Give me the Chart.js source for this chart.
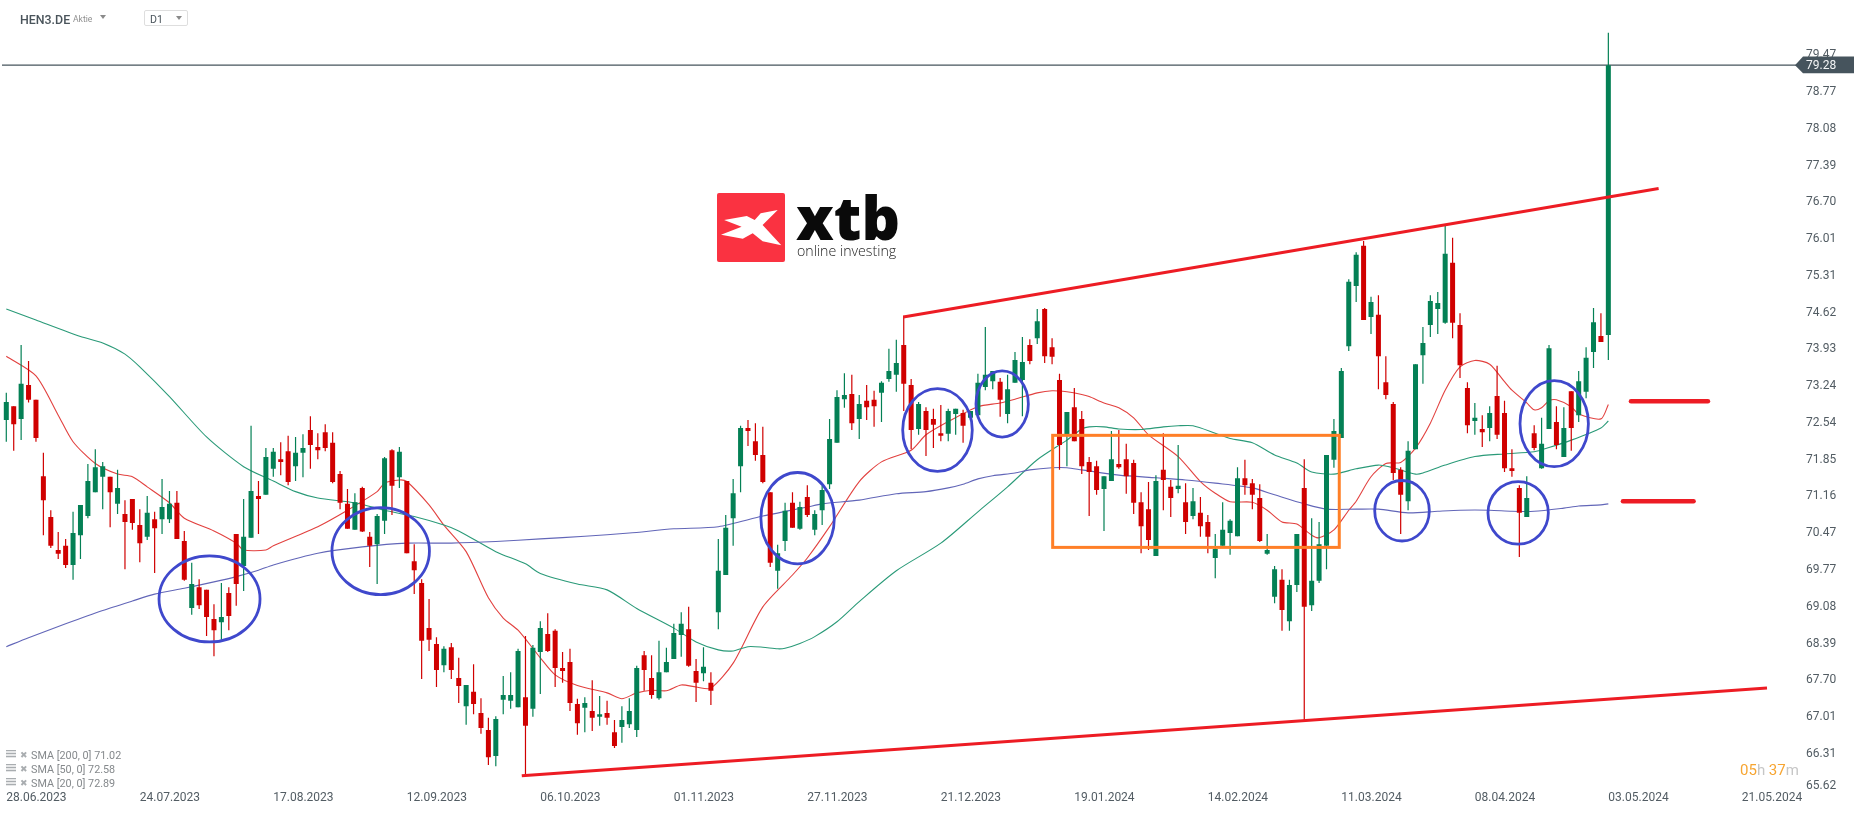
<!DOCTYPE html>
<html>
<head>
<meta charset="utf-8">
<title>HEN3.DE D1</title>
<script src="https://cdn.jsdelivr.net/npm/chart.js@4/dist/chart.umd.js"></script>
<style>
  html, body { margin: 0; padding: 0; background: #fff; overflow: hidden; font-family: Roboto, sans-serif; }
  #wrap { position: relative; width: 1866px; height: 815px; }
  #wrap > div, #wrap > svg { position: absolute; white-space: nowrap; }
  .tri { width: 0; height: 0; border-left: 3.6px solid transparent; border-right: 3.6px solid transparent; border-top: 4.6px solid #8a8a8a; }
  .sma { left: 31px; font-size: 10.8px; line-height: 12px; color: #85898c; }
  .ico { left: 6px; width: 10px; height: 8px; background: repeating-linear-gradient(#a9adb0 0 1.5px, #e6e7e8 1.5px 3px); }
  .del { left: 20px; font-size: 9px; line-height: 10px; color: #a9adb0; }
</style>
</head>
<body>
<div id="wrap">
  <canvas id="chart" width="1866" height="815"></canvas>

  <div style="left:20px;top:12px;font-size:12.4px;font-weight:500;line-height:15px;color:#4a545b">HEN3.DE</div>
  <div style="left:73px;top:14px;font-size:8.6px;line-height:11px;color:#8f8f8f">Aktie</div>
  <div class="tri" style="left:100px;top:15px"></div>
  <div style="left:144px;top:10px;width:42px;height:14px;border:1px solid #dedede;border-radius:2px"></div>
  <div style="left:150px;top:13px;font-size:10.6px;line-height:13px;color:#4a545b">D1</div>
  <div class="tri" style="left:176px;top:16px"></div>

  <div style="left:717px;top:193px;width:68px;height:69px;background:#fa3241;border-radius:2px"></div>
  <svg style="left:717px;top:193px" width="68" height="69">
    <polygon fill="#fff" points="7.1,27 29.8,23 37.7,27 43.7,20.3 60.7,17 45.6,32 64.3,52.3 45.6,48.3 35.7,40.3 25.8,45.7 4,41.7 24.6,33.7"/>
  </svg>
  <div style="left:796px;top:178px;font-family:'Open Sans';font-weight:800;font-size:60px;line-height:78px;color:#0a0a0a">xtb</div>
  <div style="left:797px;top:242px;font-family:'Open Sans';font-weight:300;font-size:14.2px;line-height:18px;color:#222">online investing</div>

  <div class="ico" style="top:750px"></div><div class="del" style="top:750px">✖</div>
  <div class="sma" style="top:750px">SMA [200, 0] 71.02</div>
  <div class="ico" style="top:764px"></div><div class="del" style="top:764px">✖</div>
  <div class="sma" style="top:764px">SMA [50, 0] 72.58</div>
  <div class="ico" style="top:778px"></div><div class="del" style="top:778px">✖</div>
  <div class="sma" style="top:778px">SMA [20, 0] 72.89</div>

  <div style="left:1740px;top:761px;font-size:15px;line-height:18px;color:#f7a531">05<span style="color:#c6c6c6">h</span> 37<span style="color:#c6c6c6">m</span></div>
</div>

<script>
// one entry per trading day
const openVals = [
  72.60,72.86,72.62,73.26,72.98,71.54,70.77,70.15,70.23,69.87,
  70.43,70.79,71.24,71.53,71.53,71.02,70.83,71.11,70.62,70.40,
  70.73,70.73,70.73,71.04,70.32,69.06,69.45,69.40,68.85,68.79,
  69.34,70.45,69.85,70.38,71.17,71.19,71.68,71.86,72.01,71.73,
  71.98,72.41,72.09,72.37,72.17,71.58,71.02,70.53,71.32,70.40,
  70.26,70.70,72.03,71.52,71.45,69.94,69.53,68.68,68.38,67.98,
  68.32,67.74,67.21,67.48,67.08,66.76,66.27,67.33,67.31,67.19,
  67.38,67.16,68.23,68.57,68.63,67.93,68.04,67.25,67.18,67.12,
  67.01,67.08,66.72,66.82,66.87,66.76,68.17,67.74,67.36,67.85,
  68.10,68.55,68.66,67.87,67.83,67.65,68.98,69.68,70.75,71.73,
  72.45,72.20,71.94,71.24,69.76,70.32,71.04,70.55,71.15,70.53,
  70.90,71.39,72.17,72.99,73.09,72.62,72.96,72.98,73.11,73.37,
  73.45,74.01,73.26,72.43,72.77,72.62,72.35,72.34,72.71,72.73,
  72.64,72.69,73.22,73.33,73.32,72.71,73.30,73.35,74.01,74.14,
  74.69,73.97,73.35,72.32,72.84,72.62,71.81,71.73,71.30,71.45,
  71.77,71.86,71.79,71.05,70.92,70.04,71.66,71.34,71.30,71.05,
  70.79,70.85,70.68,70.00,70.23,70.47,70.41,71.50,71.41,71.13,
  70.08,69.27,69.59,68.81,69.49,71.32,69.11,69.57,70.23,71.85,
  72.26,73.99,75.12,75.88,74.54,74.58,73.31,72.90,71.66,71.07,
  72.05,73.82,74.39,74.69,74.43,75.56,74.39,73.20,72.58,72.43,
  72.45,73.05,72.73,71.69,71.32,70.77,72.35,71.69,72.43,72.56,
  71.90,73.14,72.69,73.13,73.88,74.18,74.20
];
const closeVals = [
  72.94,72.52,73.28,72.98,72.26,71.09,70.23,70.08,69.87,70.47,
  71.00,71.45,71.71,71.73,71.24,71.32,70.68,70.66,70.28,70.85,
  70.56,70.96,71.02,70.36,69.59,69.51,69.11,68.89,68.64,68.89,
  68.91,69.51,70.40,71.26,71.11,71.90,72.00,71.81,71.43,71.98,
  72.07,72.13,72.03,72.07,71.43,71.04,70.55,71.05,70.50,70.23,
  70.79,71.88,71.36,72.00,70.09,69.77,68.44,68.46,67.89,68.29,
  67.89,67.59,67.61,67.25,66.80,66.25,66.97,67.42,67.42,68.25,
  66.84,68.31,68.68,68.25,67.93,67.87,67.27,66.89,67.27,66.99,
  67.06,66.99,66.46,66.95,67.12,67.93,67.89,67.42,67.85,68.04,
  68.59,68.76,67.97,67.65,67.95,67.50,69.76,70.57,71.22,72.45,
  72.39,71.94,71.43,69.91,70.09,70.89,70.57,70.96,70.81,70.83,
  71.28,72.24,73.03,73.07,72.54,72.90,72.84,72.86,73.30,73.52,
  73.67,73.28,72.41,72.90,72.41,72.51,72.30,72.77,72.81,72.49,
  72.77,73.30,73.45,73.52,72.98,73.18,73.73,73.69,73.71,74.46,
  73.80,73.79,72.13,72.75,72.20,71.73,71.62,71.28,71.54,71.86,
  71.71,71.54,71.04,70.60,70.34,71.45,71.47,71.13,71.36,70.68,
  71.07,70.60,70.40,70.17,70.53,70.70,71.50,71.37,71.19,70.32,
  70.15,69.79,69.02,69.49,70.45,69.08,69.57,70.26,71.94,72.39,
  73.52,75.20,75.71,74.48,74.82,73.80,73.07,71.60,71.19,72.02,
  73.65,74.05,74.84,74.80,75.73,74.43,73.63,72.50,72.64,72.37,
  72.73,72.32,71.69,71.64,70.85,71.13,72.07,72.15,73.95,72.13,
  72.45,72.45,73.33,73.77,74.44,74.07,79.28
];
const highVals = [
  73.11,72.86,74.01,73.71,72.98,71.98,70.90,70.49,70.36,70.87,
  71.00,71.77,72.05,71.81,71.53,71.66,71.09,71.11,70.92,71.17,
  70.87,71.49,71.26,71.26,70.51,69.91,69.60,69.40,69.13,69.53,
  69.45,70.45,71.11,72.49,71.45,72.07,72.07,72.18,72.30,72.28,
  72.33,72.67,72.35,72.52,72.37,71.64,71.30,71.22,71.34,70.49,
  70.83,71.90,72.05,72.09,71.45,70.26,69.60,69.23,68.51,68.34,
  68.40,68.12,67.61,68.00,67.36,66.99,67.02,67.78,67.85,68.29,
  68.53,68.36,68.81,68.96,68.66,68.23,68.29,67.35,67.38,67.70,
  67.40,67.31,66.95,67.21,67.36,67.97,68.25,68.17,68.44,68.31,
  68.76,68.98,69.08,68.10,68.32,67.85,70.36,70.81,71.49,72.49,
  72.60,72.54,72.47,71.24,70.25,71.04,71.24,71.06,71.37,70.90,
  71.36,72.62,73.16,73.48,73.45,73.07,73.26,73.15,73.33,73.94,
  74.11,74.56,73.37,72.94,72.84,72.81,72.88,72.81,72.81,72.79,
  72.77,73.47,74.35,73.52,73.39,73.45,73.88,74.16,74.12,74.69,
  74.71,74.14,73.47,72.75,73.20,72.77,71.90,71.83,71.54,72.39,
  72.41,72.15,71.85,71.24,71.43,71.56,72.35,71.47,72.13,71.41,
  71.32,71.15,70.81,70.45,71.05,70.73,71.71,71.85,71.49,71.39,
  70.45,69.85,69.79,69.59,70.45,71.86,70.75,70.68,71.94,72.62,
  73.58,75.25,75.76,75.97,74.92,74.95,73.80,72.94,71.71,72.20,
  73.65,74.35,74.95,75.01,76.27,76.03,74.61,73.31,72.92,72.69,
  72.86,73.62,72.96,72.05,71.37,71.54,72.50,72.64,74.01,72.86,
  72.84,73.14,73.52,73.97,74.71,74.61,79.89
];
const lowVals = [
  72.19,72.02,72.22,72.93,72.19,70.43,70.19,69.98,69.81,69.59,
  69.98,70.75,71.24,70.92,70.58,70.83,69.79,70.53,69.92,70.34,
  69.72,70.45,70.66,70.36,69.57,68.93,69.04,68.53,68.15,68.46,
  68.64,69.10,69.38,70.38,70.45,71.19,71.53,71.56,71.37,71.45,
  71.52,71.68,71.86,72.01,71.41,70.92,70.55,70.53,70.49,69.83,
  69.51,70.45,70.81,71.32,70.09,69.32,67.72,68.25,67.57,67.85,
  67.72,67.27,66.86,67.06,66.69,66.10,66.08,67.06,67.16,67.19,
  65.89,67.01,67.44,68.23,67.57,67.65,67.12,66.67,66.72,66.74,
  66.84,66.86,66.42,66.52,66.80,66.63,67.50,67.35,67.33,67.85,
  68.10,68.14,67.95,67.29,67.68,67.23,68.66,69.68,70.23,71.24,
  72.11,71.83,71.41,69.83,69.42,70.13,70.57,70.53,70.77,70.43,
  70.62,71.30,72.17,72.83,72.41,72.24,72.60,72.47,72.56,73.32,
  73.13,72.77,72.05,72.32,71.92,72.07,72.20,72.20,72.32,72.17,
  72.60,72.69,73.16,73.18,72.66,72.54,73.30,72.67,73.65,74.03,
  73.67,73.65,71.66,71.73,72.20,71.58,70.79,71.19,70.51,71.45,
  71.68,71.21,70.83,70.09,70.15,70.04,70.90,70.77,71.22,70.45,
  70.73,70.40,70.09,69.62,70.23,70.06,70.41,71.19,70.92,70.30,
  70.06,69.15,68.63,68.63,69.36,66.95,69.00,69.53,69.79,71.70,
  72.26,73.90,74.82,74.48,74.22,73.18,72.99,71.47,70.45,70.90,
  72.05,73.28,74.16,74.22,74.41,74.14,73.39,72.35,72.32,72.09,
  72.20,72.24,71.62,71.53,70.02,70.77,72.03,71.68,72.43,72.05,
  71.90,72.02,72.56,73.01,73.58,74.07,73.73
];

// moving averages, read at the days where the curve bends
const sma200Days = [0,3,8,13,17,20,24,28,31,34,36,42,48,54,60,66,72,78,84,90,96,102,108,110,115,120,124,127,129,131,133,136,138,141,143,145,150,155,159,163,168,171,175,178,182,185,189,193,196,200,203,206,210,212,215,216];
const sma200Vals = [68.33,68.50,68.76,69.01,69.19,69.32,69.43,69.55,69.65,69.77,69.87,70.09,70.21,70.28,70.28,70.31,70.36,70.41,70.47,70.55,70.59,70.79,70.96,71.02,71.09,71.21,71.25,71.32,71.39,71.49,71.55,71.60,71.66,71.70,71.70,71.66,71.56,71.51,71.47,71.41,71.32,71.19,71.02,70.92,70.92,70.92,70.85,70.88,70.90,70.90,70.88,70.88,70.94,70.98,71.00,71.02];
const sma50Days = [0,4,10,13,16,18,22,27,32,36,39,42,47,51,55,59,61,66,70,72,77,81,85,90,93,96,98,100,102,104,105,107,109,112,115,120,126,131,135,139,143,145,146,148,150,153,156,158,160,163,165,168,171,174,176,179,182,185,187,190,191,194,198,202,206,208,211,215,216];
const sma50Vals = [74.69,74.48,74.17,74.05,73.84,73.60,73.04,72.28,71.72,71.45,71.25,71.13,71.04,70.90,70.78,70.62,70.51,70.12,69.89,69.71,69.51,69.40,69.05,68.68,68.42,68.27,68.25,68.33,68.32,68.29,68.30,68.39,68.52,68.80,69.18,69.76,70.28,70.87,71.34,71.85,72.22,72.43,72.47,72.47,72.43,72.42,72.47,72.49,72.49,72.35,72.25,72.17,71.94,71.79,71.62,71.58,71.68,71.75,71.70,71.58,71.60,71.75,71.91,71.96,72.00,72.08,72.22,72.45,72.58];
const sma20Days = [0,4,7,9,12,15,17,19,22,24,28,31,32,35,36,42,46,50,51,53,54,57,59,62,65,67,69,72,74,77,81,83,85,87,89,91,93,95,98,102,106,108,111,115,118,122,124,127,131,134,136,139,141,143,145,146,148,150,152,154,158,161,163,165,168,170,172,174,176,177,179,181,182,184,186,188,190,192,194,196,198,200,202,203,205,206,207,208,209,211,212,215,216];
const sma20Vals = [73.80,73.43,72.69,72.19,71.78,71.58,71.53,71.34,71.04,70.75,70.51,70.28,70.15,70.15,70.23,70.59,70.90,71.25,71.41,71.47,71.44,71.00,70.62,70.12,69.25,68.87,68.64,68.12,67.80,67.60,67.46,67.35,67.46,67.51,67.50,67.61,67.57,67.55,68.02,69.08,69.68,70.00,70.59,71.44,71.81,72.03,72.32,72.57,72.85,72.92,72.99,73.11,73.15,73.13,73.08,73.04,72.92,72.83,72.64,72.32,71.91,71.44,71.22,71.06,71.05,70.90,70.68,70.64,70.43,70.38,70.53,70.90,71.07,71.53,71.78,71.80,72.07,72.54,73.16,73.60,73.72,73.65,73.32,73.16,72.92,72.79,72.83,72.96,72.98,72.85,72.71,72.62,72.89];

// axis labels: one date every 18 trading days
const dateTickDays = [0,18,36,54,72,90,108,126,144,162,180,198,216,234];
const dateTickLabels = ['28.06.2023','24.07.2023','17.08.2023','12.09.2023','06.10.2023','01.11.2023','27.11.2023','21.12.2023','19.01.2024','14.02.2024','11.03.2024','08.04.2024','03.05.2024','21.05.2024'];
const priceTicks = [79.47,78.77,78.08,77.39,76.70,76.01,75.31,74.62,73.93,73.24,72.54,71.85,71.16,70.47,69.77,69.08,68.39,67.70,67.01,66.31,65.62];
const lastPrice = 79.28;

// hand drawn markup, in day / price units
const upperTrend = [[120.94,74.54],[222.78,76.96]];
const lowerTrend = [[69.50,65.90],[237.39,67.55]];
const shortLineA = [[219.05,72.95],[229.43,72.95]];
const shortLineB = [[217.97,71.07],[227.49,71.07]];
const boxDays = [141.08,179.72];
const boxPrices = [72.31,70.20];
const circleDays = [27.40,50.48,106.69,125.55,134.27,188.18,203.84,208.70];
const circlePrices = [69.23,70.13,70.75,72.41,72.90,70.89,70.85,72.53];
const circleDayRadii = [6.81,6.57,4.95,4.69,3.53,3.68,4.07,4.61];
const circlePriceRadii = [0.81,0.82,0.86,0.78,0.625,0.57,0.59,0.81];

const GREEN = '#048055';
const RED = '#d00000';
const AXIS_FONT = { family: 'Roboto', size: 12 };
const AXIS_COLOR = '#525c63';

const candleColors = openVals.map((o, i) => closeVals[i] >= o ? GREEN : RED);

function seriesPoints(days, vals) {
  return days.map((d, i) => ({ x: d, y: vals[i] }));
}

function smaDataset(days, vals, color) {
  return { type: 'line', data: seriesPoints(days, vals), borderColor: color, borderWidth: 1.1, pointRadius: 0, tension: 0.25, order: 4 };
}

function drawnLine(pts, color, width, cap) {
  return {
    type: 'line',
    data: pts.map(p => ({ x: p[0], y: p[1] })),
    borderColor: color,
    borderWidth: width,
    borderCapStyle: cap || 'butt',
    pointRadius: 0,
    order: 0
  };
}

// labels must not add padding around the plot, the axes are placed by hand
function noPadding(axis) {
  axis.paddingTop = 0;
  axis.paddingBottom = 0;
  axis.paddingLeft = 0;
  axis.paddingRight = 0;
}

const markupPlugin = {
  id: 'markup',
  afterDatasetsDraw(chart) {
    const c = chart.ctx;
    const xs = chart.scales.x;
    const ys = chart.scales.y;
    c.save();
    c.strokeStyle = '#ff7f27';
    c.lineWidth = 3;
    const bx = xs.getPixelForValue(boxDays[0]);
    const by = ys.getPixelForValue(boxPrices[0]);
    c.strokeRect(bx, by, xs.getPixelForValue(boxDays[1]) - bx, ys.getPixelForValue(boxPrices[1]) - by);
    c.strokeStyle = '#3f48cc';
    c.lineWidth = 2.8;
    circleDays.forEach((d, i) => {
      const cx = xs.getPixelForValue(d);
      const cy = ys.getPixelForValue(circlePrices[i]);
      const rx = xs.getPixelForValue(d + circleDayRadii[i]) - cx;
      const ry = cy - ys.getPixelForValue(circlePrices[i] + circlePriceRadii[i]);
      c.beginPath();
      c.ellipse(cx, cy, rx, ry, 0, 0, Math.PI * 2);
      c.stroke();
    });
    c.restore();
  },
  afterDraw(chart) {
    const c = chart.ctx;
    const y = chart.scales.y.getPixelForValue(lastPrice);
    c.save();
    // price tag sits on top of the 79.47 tick
    c.fillStyle = '#46545d';
    c.beginPath();
    c.moveTo(1795, y);
    c.lineTo(1803, y - 8.7);
    c.lineTo(1854, y - 8.7);
    c.lineTo(1854, y + 8);
    c.lineTo(1803, y + 8);
    c.closePath();
    c.fill();
    c.font = '12px Roboto';
    c.textBaseline = 'middle';
    c.fillStyle = '#f2f4f5';
    c.fillText(String(lastPrice), 1806, y + 1);
    // lowest tick label is pushed up to stay inside the axis
    c.fillStyle = AXIS_COLOR;
    c.fillText(priceTicks[priceTicks.length - 1].toFixed(2), 1806, 786);
    c.restore();
  }
};

new Chart(document.getElementById('chart'), {
  type: 'bar',
  data: {
    datasets: [
      {
        data: openVals.map((o, i) => ({ x: i, y: [o, closeVals[i]] })),
        backgroundColor: candleColors,
        barThickness: 5,
        grouped: false,
        inflateAmount: 0,
        order: 1
      },
      {
        data: highVals.map((h, i) => ({ x: i, y: [lowVals[i], h] })),
        backgroundColor: candleColors,
        barThickness: 1.2,
        grouped: false,
        inflateAmount: 0,
        order: 2
      },
      smaDataset(sma200Days, sma200Vals, '#6266b8'),
      smaDataset(sma50Days, sma50Vals, '#2a9a78'),
      smaDataset(sma20Days, sma20Vals, '#e2413f'),
      {
        type: 'line',
        data: [{ x: -0.58, y: lastPrice }, { x: 241.8, y: lastPrice }],
        borderColor: '#46545d',
        borderWidth: 1.2,
        pointRadius: 0,
        order: 3
      },
      drawnLine(upperTrend, '#ed1c24', 3),
      drawnLine(lowerTrend, '#ed1c24', 3),
      drawnLine(shortLineA, '#ed1c24', 4.5, 'round'),
      drawnLine(shortLineB, '#ed1c24', 4.5, 'round')
    ]
  },
  options: {
    responsive: false,
    animation: false,
    events: [],
    layout: { padding: 0 },
    plugins: { legend: { display: false }, tooltip: { enabled: false } },
    scales: {
      x: {
        type: 'linear',
        offset: false,
        min: -0.849,
        max: 241.84,
        border: { display: false },
        grid: { display: false, drawTicks: false },
        afterBuildTicks: axis => { axis.ticks = dateTickDays.map(v => ({ value: v })); },
        afterFit: axis => { axis.height = 24.4; noPadding(axis); },
        ticks: {
          autoSkip: false,
          maxRotation: 0,
          align: 'start',
          padding: 0,
          font: AXIS_FONT,
          color: AXIS_COLOR,
          callback: v => dateTickLabels[dateTickDays.indexOf(v)]
        }
      },
      y: {
        type: 'linear',
        position: 'right',
        min: 65.62,
        max: 80.508,
        border: { display: false },
        grid: { display: false, drawTicks: false },
        afterBuildTicks: axis => { axis.ticks = priceTicks.map(v => ({ value: v })); },
        afterFit: axis => { axis.width = 66; noPadding(axis); },
        ticks: {
          autoSkip: false,
          padding: 6,
          font: AXIS_FONT,
          color: AXIS_COLOR,
          callback: v => v === 65.62 ? '' : v.toFixed(2)
        }
      }
    }
  },
  plugins: [markupPlugin]
});
</script>
</body>
</html>
